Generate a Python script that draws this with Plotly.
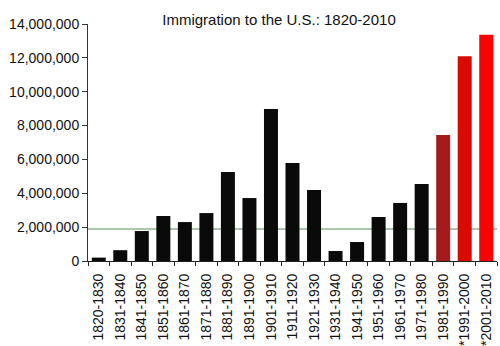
import plotly.graph_objects as go

decades = ["1820-1830", "1831-1840", "1841-1850", "1851-1860", "1861-1870",
           "1871-1880", "1881-1890", "1891-1900", "1901-1910", "1911-1920",
           "1921-1930", "1931-1940", "1941-1950", "1951-1960", "1961-1970",
           "1971-1980", "1981-1990", "*1991-2000", "*2001-2010"]
immigrants = [200000, 640000, 1770000, 2660000, 2300000,
              2830000, 5260000, 3720000, 8980000, 5790000,
              4190000, 590000, 1120000, 2600000, 3430000,
              4550000, 7440000, 12100000, 13370000]
bar_colors = ["#0a0a0a"] * 16 + ["#a51a1a", "#d90a00", "#ff0000"]
reference_level = 1890000
y_ticks = [0, 2000000, 4000000, 6000000, 8000000, 10000000, 12000000, 14000000]
y_tick_labels = ["0", "2,000,000", "4,000,000", "6,000,000", "8,000,000",
                 "10,000,000", "12,000,000", "14,000,000"]

fig = go.Figure(go.Bar(x=decades, y=immigrants, marker=dict(color=bar_colors, line=dict(width=0))))

fig.add_shape(type="line", xref="paper", x0=0, x1=1, yref="y",
              y0=reference_level, y1=reference_level,
              line=dict(color="#5b8c5b", width=1), layer="below")

fig.update_layout(
    width=500, height=346,
    margin=dict(l=88, r=3, t=24, b=85),
    paper_bgcolor="white", plot_bgcolor="white",
    bargap=0.35,
    showlegend=False,
    font=dict(family="Liberation Sans, Arial, sans-serif", color="#111"),
    title=dict(text="Immigration to the U.S.: 1820-2010", font=dict(size=15, color="#111"),
               x=279/500, xref="container", xanchor="center",
               y=1 - 20/346, yref="container", yanchor="middle"),
    xaxis=dict(type="category", tickangle=-90, tickfont=dict(size=14),
               showline=True, linecolor="#222", linewidth=1,
               ticks="outside", ticklen=4, tickcolor="#222", tickson="boundaries",
               ticklabelstandoff=6, automargin=False,
               showgrid=False, zeroline=False),
    yaxis=dict(range=[0, 14000000], tickvals=y_ticks, ticktext=y_tick_labels,
               tickfont=dict(size=14), showline=True, linecolor="#333", linewidth=1,
               ticks="outside", ticklen=5, tickcolor="#333", automargin=False,
               showgrid=False, zeroline=False),
)

fig.write_html("out.html")
